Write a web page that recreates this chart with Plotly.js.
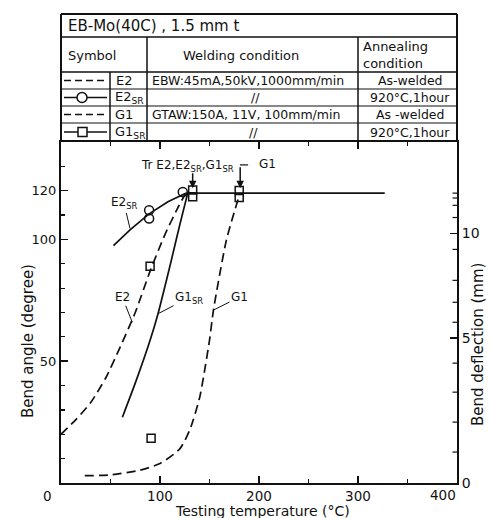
<!DOCTYPE html>
<html><head><meta charset="utf-8">
<script src="https://cdn.plot.ly/plotly-3.0.1.min.js"></script>
<style>html,body{margin:0;padding:0;background:#fff;}#chart{width:491px;height:518px;}</style>
</head><body><div id="chart"></div>
<script>
// ---- data ----
const e2X = [0, 15, 30, 45, 60, 75, 90, 105, 118, 126];
const e2Y = [20, 26, 33, 43, 56, 70, 87, 102, 113, 119];
const e2srLineX = [53, 70, 89, 108, 126];
const e2srLineY = [97.5, 104, 110.5, 115.5, 119];
const e2srPtX = [89, 89, 123];
const e2srPtY = [112, 108.6, 119.5];
const g1X = [24, 50, 80, 100, 120, 130, 140, 150, 154, 167, 180];
const g1Y = [3, 3.3, 5.3, 8, 14, 21.7, 35, 58.6, 71, 99.6, 118];
const g1srLineX = [62, 75, 90, 98, 110, 120, 128];
const g1srLineY = [27, 41, 58.6, 69.5, 89, 106, 119];
const g1srPtX = [90, 91, 133, 133, 180, 180];
const g1srPtY = [89, 18.4, 120.3, 117.5, 120.1, 117.2];
const shelfX = [126, 327];
const shelfY = [119, 119];
// temperature / angle ticks
const xTickVals = [100, 200, 300];
const xTickText = ['100', '200', '300'];
const yTickVals = [50, 100, 120];
const yTickText = ['50', '100', '120'];
// bend deflection (mm) scale drawn against bend angle
const deflLabels = ['0', '5', '10'];
const deflLabelAngle = [0, 59.5, 102.5];
const deflMinorAngle = [12.7, 25, 37.3, 49.2, 66, 74.2, 83.2, 95.9, 109, 114, 117, 119];
// table contents
const tableTitle = 'EB-Mo(40C) , 1.5 mm t';
const symbolNames = ['E2', 'E2<sub>SR</sub>', 'G1', 'G1<sub>SR</sub>'];
const weldingCond = ['EBW:45mA,50kV,1000mm/min', '//', 'GTAW:150A, 11V, 100mm/min', '//'];
const annealCond = ['As-welded', '920°C,1hour', 'As -welded', '920°C,1hour'];

// ---- layout geometry (pixels) ----
const L = 61, R = 457, T = 142, B = 483;
const px = p => (p - L) / (R - L);
const py = p => (B - p) / (B - T);
const FONT = 'DejaVu Sans, sans-serif';

const shapes = [];
const ann = [];
function hline(y, x0, x1, w) { shapes.push({type:'line', xref:'paper', yref:'paper', x0:px(x0), x1:px(x1), y0:py(y), y1:py(y), line:{color:'#111', width:w||1.5}}); }
function vline(x, y0, y1, w) { shapes.push({type:'line', xref:'paper', yref:'paper', x0:px(x), x1:px(x), y0:py(y0), y1:py(y1), line:{color:'#111', width:w||1.5}}); }
function txt(t, x, y, size, xa, extra) { ann.push(Object.assign({text:t, xref:'paper', yref:'paper', x:px(x), y:py(y), xanchor:xa||'center', yanchor:'middle', showarrow:false, font:{family:FONT, size:size, color:'#111'}}, extra||{})); }

// table frame
hline(14, L, R, 2);
hline(37, L, R, 1.5);
hline(72, L, R, 1.5);
hline(89, L, R, 1.2);
hline(106, L, R, 1.2);
hline(123, L, R, 1.2);
vline(L, 14, T, 2);
vline(R, 14, T, 2);
vline(147, 37, T, 1.5);
vline(358, 37, T, 1.5);
vline(110, 72, T, 1.5);

txt(tableTitle, 66, 26, 15, 'left');
txt('Symbol', 92, 55, 13);
txt('Welding condition', 241, 55, 13);
txt('Annealing<br>condition', 361, 55, 13, 'left', {align:'left'});
const rowY = [80.5, 97.5, 114.5, 132];
const weldX = [150, 255, 150, 253];
for (let i = 0; i < 4; i++) {
  txt(symbolNames[i], i % 2 === 0 ? 124 : 113, rowY[i], 13, i % 2 === 0 ? 'center' : 'left');
  txt(weldingCond[i], weldX[i], rowY[i], 12.5, i % 2 === 0 ? 'left' : 'center');
  txt(annealCond[i], 410, rowY[i], 12.5, 'center');
  const dashed = (i % 2 === 0);
  shapes.push({type:'line', xref:'paper', yref:'paper', x0:px(64), x1:px(107), y0:py(rowY[i]), y1:py(rowY[i]), line:{color:'#111', width:1.6, dash: dashed ? '7px,4px' : 'solid'}});
}
// symbol markers in table
shapes.push({type:'circle', xref:'paper', yref:'paper', x0:px(77), x1:px(87), y0:py(rowY[1]-5), y1:py(rowY[1]+5), line:{color:'#111', width:1.5}, fillcolor:'#fff'});
shapes.push({type:'rect', xref:'paper', yref:'paper', x0:px(78), x1:px(87), y0:py(rowY[3]-4.5), y1:py(rowY[3]+4.5), line:{color:'#111', width:1.5}, fillcolor:'#fff'});

// minor ticks of the (non-linear) deflection scale, on the right axis, pointing inward
deflMinorAngle.forEach(a => shapes.push({type:'line', xref:'paper', yref:'y', xsizemode:'pixel', xanchor:1, x0:-4.5, x1:0, y0:a, y1:a, line:{color:'#111', width:1.2}}));

// axis titles and offset corner labels
txt('0', 47, 496, 13.5);
txt('400', 443, 495, 13.5);
txt('Testing temperature (°C)', 262, 511, 14);
txt('Bend angle (degree)', 28, 341, 15, 'center', {textangle:-90});
txt('Bend deflection (mm)', 478, 345, 15, 'center', {textangle:-90});

// curve labels (data coords)
function lab(t, x, y, ax, ay, size) { ann.push({text:t, x:x, y:y, xref:'x', yref:'y', ax:ax, ay:ay, showarrow:true, arrowhead:0, arrowwidth:1, arrowcolor:'#111', standoff:0, font:{family:FONT, size:size||12, color:'#111'}}); }
lab('E2<sub>SR</sub>', 69.7, 104.5, -6, -25);
lab('E2', 72, 66, -10, -25);
lab('G1<sub>SR</sub>', 98, 69.5, 31, -16);
lab('G1', 154, 71, 26, -13);
ann.push({text:'Tr E2,E2<sub>SR</sub>,G1<sub>SR</sub>', x:127.8, y:130.3, xref:'x', yref:'y', showarrow:false, font:{family:FONT, size:12, color:'#111'}});
ann.push({text:'G1', x:198, y:131, xref:'x', yref:'y', xanchor:'left', showarrow:false, font:{family:FONT, size:12, color:'#111'}});
ann.push({text:' ', x:133, y:121, xref:'x', yref:'y', ax:0, ay:-17, showarrow:true, arrowhead:2, arrowsize:1, arrowwidth:1.5, arrowcolor:'#111', font:{size:1}});
ann.push({text:' ', x:181, y:121, xref:'x', yref:'y', ax:0, ay:-23, showarrow:true, arrowhead:2, arrowsize:1, arrowwidth:1.5, arrowcolor:'#111', font:{size:1}});
shapes.push({type:'line', xref:'x', yref:'y', x0:180.7, x1:189, y0:130.6, y1:130.6, line:{color:'#111', width:1.2}});

const K = '#111';
const traces = [
  {x:e2X, y:e2Y, mode:'lines', line:{color:K, width:1.7, dash:'9px,5px', shape:'spline', smoothing:0.6}, name:'E2'},
  {x:e2srLineX, y:e2srLineY, mode:'lines', line:{color:K, width:1.7}, name:'E2SR'},
  {x:g1X, y:g1Y, mode:'lines', line:{color:K, width:1.7, dash:'9px,5px', shape:'spline', smoothing:0.6}, name:'G1'},
  {x:g1srLineX, y:g1srLineY, mode:'lines', line:{color:K, width:1.7, shape:'spline', smoothing:0.6}, name:'G1SR'},
  {x:shelfX, y:shelfY, mode:'lines', line:{color:K, width:1.7}, name:'upper shelf'},
  {x:e2srPtX, y:e2srPtY, mode:'markers', marker:{symbol:'circle-open', size:9, color:K, line:{width:1.5, color:K}}, name:'E2SR pts'},
  {x:g1srPtX, y:g1srPtY, mode:'markers', marker:{symbol:'square-open', size:8, color:K, line:{width:1.5, color:K}}, name:'G1SR pts'},
  {x:[], y:[], yaxis:'y2', mode:'markers', showlegend:false}
];

const layout = {
  width:491, height:518,
  margin:{l:L, r:491-R, t:T, b:518-B, pad:0},
  paper_bgcolor:'#fff', plot_bgcolor:'#fff',
  showlegend:false,
  font:{family:FONT, color:'#111'},
  xaxis:{range:[0,400], tickvals:xTickVals, ticktext:xTickText, ticks:'inside', ticklen:7, tickwidth:1.5, tickcolor:K,
    minor:{dtick:50, tick0:0, ticks:'inside', ticklen:4, tickwidth:1.2, tickcolor:K},
    showline:true, linewidth:2, linecolor:K, mirror:'ticks', showgrid:false, zeroline:false,
    tickfont:{family:FONT, size:13.5, color:K}},
  yaxis:{range:[0,140], tickvals:yTickVals, ticktext:yTickText, ticks:'inside', ticklen:7, tickwidth:1.5, tickcolor:K,
    minor:{dtick:10, tick0:0, ticks:'inside', ticklen:4, tickwidth:1.2, tickcolor:K},
    showline:true, linewidth:2, linecolor:K, showgrid:false, zeroline:false,
    tickfont:{family:FONT, size:13, color:K}},
  yaxis2:{overlaying:'y', side:'right', anchor:'x', range:[0,140], tickvals:deflLabelAngle, ticktext:deflLabels,
    ticks:'inside', ticklen:7, tickwidth:1.5, tickcolor:K, showline:true, linewidth:2, linecolor:K,
    showgrid:false, zeroline:false, tickfont:{family:FONT, size:14, color:K}},
  shapes:shapes,
  annotations:ann
};
Plotly.newPlot('chart', traces, layout, {staticPlot:true, displayModeBar:false});
</script>
</body></html>
